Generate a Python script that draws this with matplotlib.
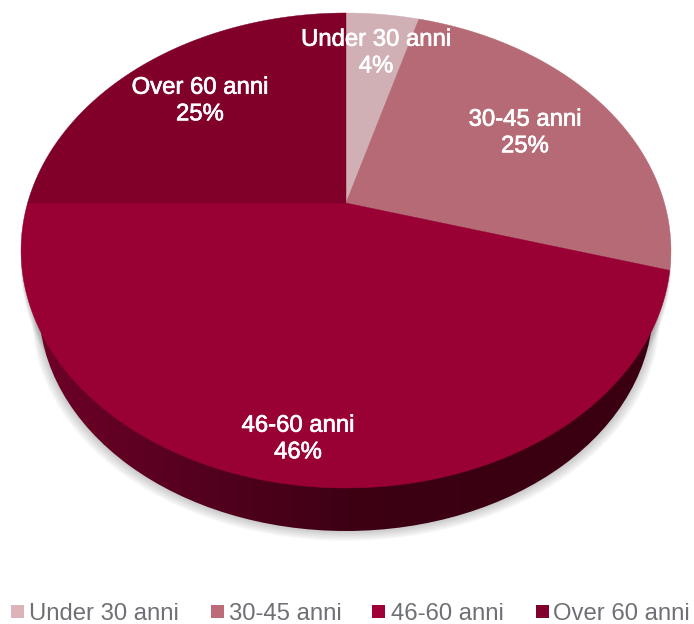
import numpy as np
import matplotlib
matplotlib.use('Agg')
import matplotlib.pyplot as plt
import matplotlib.patheffects as pe
from matplotlib.patches import Ellipse, Polygon, Rectangle
from matplotlib.colors import LinearSegmentedColormap

plt.rcParams['font.family'] = ['Liberation Sans', 'DejaVu Sans']

categories = ['Under 30 anni', '30-45 anni', '46-60 anni', 'Over 60 anni']
values = [4.4, 25.1, 45.5, 25.0]
pct_labels = ['4%', '25%', '46%', '25%']
pie_colors = ['#D1B0B5', '#B56A75', '#990033', '#80002A']
legend_colors = ['#DDB3BA', '#BD6B78', '#A00038', '#80002E']

label_xy = [(376, 53), (525, 133), (298, 439), (200, 101)]
legend_swatch_x = [11, 211, 372, 536]
legend_text_x = [29, 229, 391, 553]

# pie seen in perspective, so the apex sits above the centre of the ellipse
cx, cy = 346, 203
A, B, K = 318.4, 187.4, -0.2

def project(theta):
    u, v = np.sin(theta), -np.cos(theta)
    d = 1 + K * v
    return cx + A * u / d, (cy + B * v) / d

fig = plt.figure(figsize=(6.94, 6.24), dpi=100)
ax = fig.add_axes([0, 0, 1, 1])

# soft shadow, the copies only slide down so nothing shows above the widest part
for i in range(10):
    g = 10 - i
    ax.add_patch(Ellipse((346, 306.6 + g), 2 * (307 + g * 0.7), 2 * 224.4, fc='#555555', ec='none', alpha=0.03, zorder=1))
    ax.add_patch(Ellipse((346, 250.5 + g * 1.5), 2 * 325, 2 * 237.5, fc='#555555', ec='none', alpha=0.03, zorder=1))

# side of the pie, darker towards the right
side = Ellipse((346, 306.6), 2 * 307, 2 * 224.4, fc='none', ec='none', zorder=2)
ax.add_patch(side)
cmap = LinearSegmentedColormap.from_list('side', ['#6E0028', '#55001F', '#3E0014', '#3A0012', '#3A0012'])
im = ax.imshow(np.linspace(0, 1, 256).reshape(1, -1), extent=(39, 653, 540, 300), cmap=cmap, aspect='auto', zorder=2)
im.set_clip_path(side)

# top face
total = sum(values)
edges = np.cumsum([0] + values) / total * 2 * np.pi
for start, stop, color in zip(edges[:-1], edges[1:], pie_colors):
    x, y = project(np.linspace(start, stop, 200))
    pts = np.column_stack([np.r_[cx, x], np.r_[cy, y]])
    ax.add_patch(Polygon(pts, closed=True, fc=color, ec=color, lw=0.3, zorder=3))

for (x, y), cat, pct in zip(label_xy, categories, pct_labels):
    ax.text(x, y, cat + '\n' + pct, color='white', fontsize=17.2, ha='center', va='center', linespacing=1.27,
            zorder=5, path_effects=[pe.withStroke(linewidth=0.5, foreground='white')])

# legend
for sx, tx, cat, color in zip(legend_swatch_x, legend_text_x, categories, legend_colors):
    ax.add_patch(Rectangle((sx, 605), 13, 13, fc=color, ec='none', zorder=5))
    ax.text(tx, 614, cat, color='#6F7075', fontsize=17.2, ha='left', va='center', zorder=5)

ax.set_xlim(0, 694)
ax.set_ylim(624, 0)
ax.axis('off')
plt.savefig('out.png', dpi=100)
